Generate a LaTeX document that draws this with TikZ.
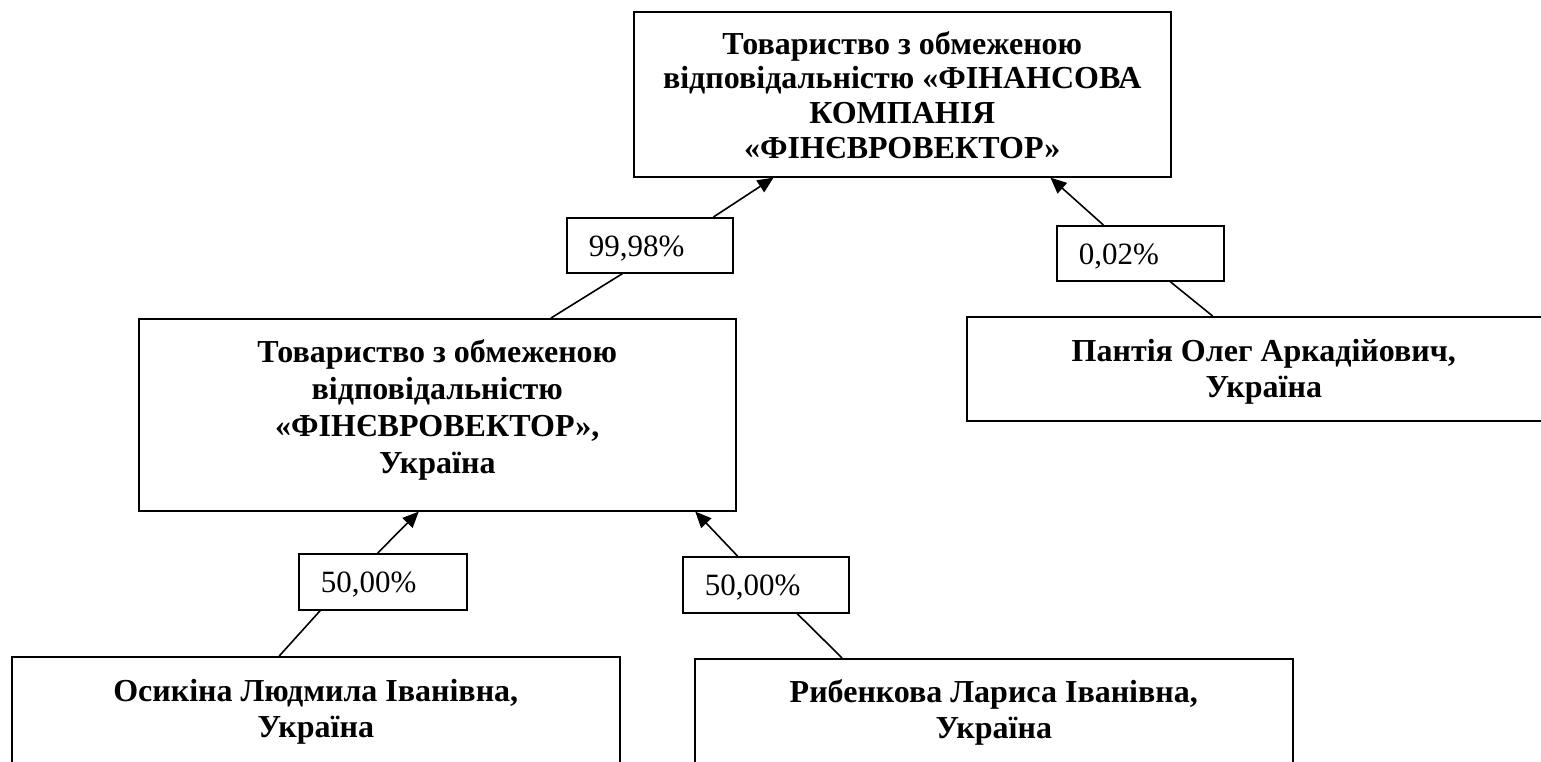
\documentclass[tikz,border=0pt]{standalone}
\usepackage{fontspec}
\setmainfont{Liberation Serif}
\usetikzlibrary{arrows.meta,calc}
\begin{document}
\begin{tikzpicture}[x=1pt,y=-1pt,
  box/.style={draw=black, line width=1.6pt, inner sep=0pt, anchor=north west},
  btxt/.style={font=\fontsize{32}{35.5}\selectfont\bfseries, align=center, inner sep=0pt, anchor=north},
  lab/.style={draw=black, line width=1.6pt, anchor=north west, font=\fontsize{31}{36}\selectfont, inner xsep=22pt, inner ysep=0pt, align=left, text height=22pt, text depth=0pt},
  con/.style={line width=1.6pt},
  arr/.style={line width=1.6pt, -{Triangle[length=16pt,width=14pt]}}]
\useasboundingbox (0,0) rectangle (1541,761);
\fill[white] (0,0) rectangle (1541,761);
\clip (0,0) rectangle (1541,761);
% boxes
\node[box, minimum width=537pt, minimum height=165pt] (top) at (633,11) {};
\node[btxt, font=\fontsize{32}{34.8}\selectfont\bfseries] (toptxt) at ($(top.north)+(0,20)$) {Товариство з обмеженою\\відповідальністю «ФІНАНСОВА\\КОМПАНІЯ\\«ФІНЄВРОВЕКТОР»};
\node[box, minimum width=597pt, minimum height=192pt] (mid) at (138,318) {};
\node[btxt, font=\fontsize{32}{37}\selectfont\bfseries] (midtxt) at ($(mid.north)+(0,21.5)$) {Товариство з обмеженою\\відповідальністю\\«ФІНЄВРОВЕКТОР»,\\Україна};
\node[box, minimum width=594pt, minimum height=104pt] (pan) at (966,316) {};
\node[btxt] (pantxt) at ($(pan.north)+(0,23.5)$) {Пантія Олег Аркадійович,\\Україна};
\node[box, minimum width=608pt, minimum height=200pt] (osi) at (11,656) {};
\node[btxt] (ositxt) at ($(osi.north)+(0,23.5)$) {Осикіна Людмила Іванівна,\\Україна};
\node[box, minimum width=598pt, minimum height=200pt] (ryb) at (694,658) {};
\node[btxt] (rybtxt) at ($(ryb.north)+(0,21.5)$) {Рибенкова Лариса Іванівна,\\Україна};
% labels
\node[lab, text width=122pt, minimum height=55pt] (l1) at (566,217) {99,98\%};
\node[lab, text width=123pt, minimum height=55pt] (l2) at (1056,225) {0,02\%};
\node[lab, text width=124pt, minimum height=56pt] (l3) at (298,553) {50,00\%};
\node[lab, text width=122pt, minimum height=56pt] (l4) at (682,556) {50,00\%};
% connectors
\draw[arr] ($(l1.north west)!0.88!(l1.north east)$) -- ($(top.south west)!0.261!(top.south east)$);
\draw[con] ($(l1.south west)!0.337!(l1.south east)$) -- ($(mid.north west)!0.69!(mid.north east)$);
\draw[arr] ($(l2.north west)!0.281!(l2.north east)$) -- ($(top.south west)!0.775!(top.south east)$);
\draw[con] ($(l2.south west)!0.677!(l2.south east)$) -- ($(pan.north west)!0.414!(pan.north east)$);
\draw[arr] ($(l3.north west)!0.47!(l3.north east)$) -- ($(mid.south west)!0.469!(mid.south east)$);
\draw[con] ($(l3.south west)!0.131!(l3.south east)$) -- ($(osi.north west)!0.44!(osi.north east)$);
\draw[arr] ($(l4.north west)!0.331!(l4.north east)$) -- ($(mid.south west)!0.931!(mid.south east)$);
\draw[con] ($(l4.south west)!0.687!(l4.south east)$) -- ($(ryb.north west)!0.247!(ryb.north east)$);
\end{tikzpicture}
\end{document}
